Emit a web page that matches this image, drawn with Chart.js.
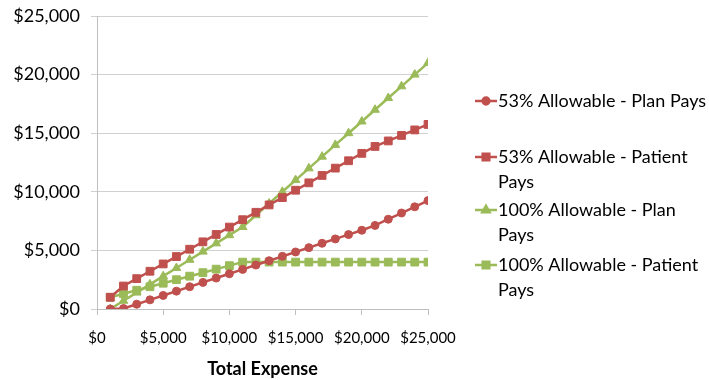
<!DOCTYPE html>
<html>
<head>
<meta charset="utf-8">
<script src="https://cdn.jsdelivr.net/npm/chart.js@4.4.1/dist/chart.umd.min.js"></script>
<style>
  html, body { margin: 0; padding: 0; background: #ffffff; }
  #wrap { position: relative; width: 709px; height: 380px; }
</style>
</head>
<body>
<div id="wrap"><canvas id="c" width="709" height="380"></canvas></div>
<script>
// ---- data ----
const totalExpense = [1000, 2000, 3000, 4000, 5000, 6000, 7000, 8000, 9000, 10000,
  11000, 12000, 13000, 14000, 15000, 16000, 17000, 18000, 19000, 20000,
  21000, 22000, 23000, 24000, 25000];
const plan53 = [0, 40, 410, 780, 1155, 1525, 1900, 2270, 2640, 3010,
  3380, 3750, 4120, 4495, 4865, 5235, 5605, 5980, 6350, 6720,
  7130, 7660, 8190, 8720, 9250];
const patient53 = [1000, 1960, 2590, 3220, 3845, 4475, 5100, 5730, 6360, 6990,
  7620, 8250, 8880, 9505, 10135, 10765, 11395, 12020, 12650, 13280,
  13870, 14340, 14810, 15280, 15750];
const plan100 = [0, 700, 1400, 2100, 2800, 3500, 4200, 4900, 5600, 6300,
  7000, 8000, 9000, 10000, 11000, 12000, 13000, 14000, 15000, 16000,
  17000, 18000, 19000, 20000, 21000];
const patient100 = [1000, 1300, 1600, 1900, 2200, 2500, 2800, 3100, 3400, 3700,
  4000, 4000, 4000, 4000, 4000, 4000, 4000, 4000, 4000, 4000,
  4000, 4000, 4000, 4000, 4000];
const seriesNames = ['53% Allowable - Plan Pays', '53% Allowable - Patient Pays',
  '100% Allowable - Plan Pays', '100% Allowable - Patient Pays'];
const xAxisTitle = 'Total Expense';
const axisMin = 0, axisMax = 25000, axisStep = 5000;

const RED = '#C0504D', GREEN = '#9BBB59';
const FONT = 'Lato, Carlito, "Open Sans", sans-serif';

function pts(vals) { return vals.map((v, i) => ({ x: totalExpense[i], y: v })); }
function money(v) { return '$' + Number(v).toLocaleString('en-US'); }

const styles = [
  { c: RED, p: 'circle', r: 4 },
  { c: RED, p: 'rect', r: 5.5 },
  { c: GREEN, p: 'triangle', r: 5 },
  { c: GREEN, p: 'rect', r: 5.5 }
];
const values = [plan53, patient53, plan100, patient100];

const datasets = values.map((v, i) => ({
  label: seriesNames[i],
  data: pts(v),
  borderColor: styles[i].c,
  backgroundColor: styles[i].c,
  pointBackgroundColor: styles[i].c,
  pointBorderColor: styles[i].c,
  pointStyle: styles[i].p,
  pointRadius: styles[i].r,
  pointBorderWidth: 1,
  borderWidth: 2.5,
  tension: 0
}));

// custom legend drawn on the canvas (wrapping like the reference)
const legendPlugin = {
  id: 'sideLegend',
  afterDraw(chart) {
    const ctx = chart.ctx;
    const firstLine = [101, 157, 210, 265];
    const lineH = 25;
    const textX = 498, maxW = 214;
    ctx.save();
    ctx.font = '18px ' + FONT;
    ctx.textBaseline = 'middle';
    chart.data.datasets.forEach((ds, i) => {
      const y0 = firstLine[i];
      ctx.strokeStyle = ds.borderColor;
      ctx.lineWidth = 2.5;
      ctx.beginPath(); ctx.moveTo(475, y0); ctx.lineTo(497, y0); ctx.stroke();
      ctx.fillStyle = ds.backgroundColor;
      Chart.helpers.drawPoint(ctx, {
        pointStyle: ds.pointStyle, radius: ds.pointRadius * 0.85,
        borderWidth: 1, rotation: 0
      }, 486, y0);
      ctx.fill();
      const words = ds.label.split(' ');
      const lines = [];
      let cur = '';
      words.forEach(w => {
        const t = cur ? cur + ' ' + w : w;
        if (ctx.measureText(t).width > maxW && cur) { lines.push(cur); cur = w; }
        else cur = t;
      });
      lines.push(cur);
      ctx.fillStyle = '#000000';
      lines.forEach((ln, k) => ctx.fillText(ln, textX, y0 + k * lineH));
    });
    ctx.restore();
  }
};

new Chart(document.getElementById('c'), {
  type: 'line',
  data: { datasets },
  plugins: [legendPlugin],
  options: {
    responsive: false,
    animation: false,
    devicePixelRatio: 1,
    layout: { padding: { top: 16, right: 281, left: 0, bottom: 0 } },
    plugins: { legend: { display: false }, tooltip: { enabled: false } },
    scales: {
      x: {
        type: 'linear', min: axisMin, max: axisMax,
        afterFit(s) { s.height = 71; s.paddingLeft = 0; s.paddingRight = 0; },
        ticks: { stepSize: axisStep, callback: money, color: '#000000',
                 font: { family: FONT, size: 15 }, padding: 14, maxRotation: 0 },
        grid: { drawOnChartArea: false, color: '#BFBFBF', tickLength: 6, lineWidth: 1 },
        border: { color: '#BFBFBF', width: 1 },
        title: { display: true, text: xAxisTitle, color: '#000000',
                 font: { family: FONT, size: 18, weight: 'bold' }, padding: { top: 6, bottom: 0 } }
      },
      y: {
        min: axisMin, max: axisMax,
        afterFit(s) { s.width = 97; s.paddingTop = 0; s.paddingBottom = 0; },
        ticks: { stepSize: axisStep, callback: money, color: '#000000',
                 font: { family: FONT, size: 18 }, padding: 11 },
        grid: { color: '#D0D0D0', tickLength: 6, lineWidth: 1 },
        border: { color: '#BFBFBF', width: 1 }
      }
    }
  }
});
</script>
</body>
</html>
